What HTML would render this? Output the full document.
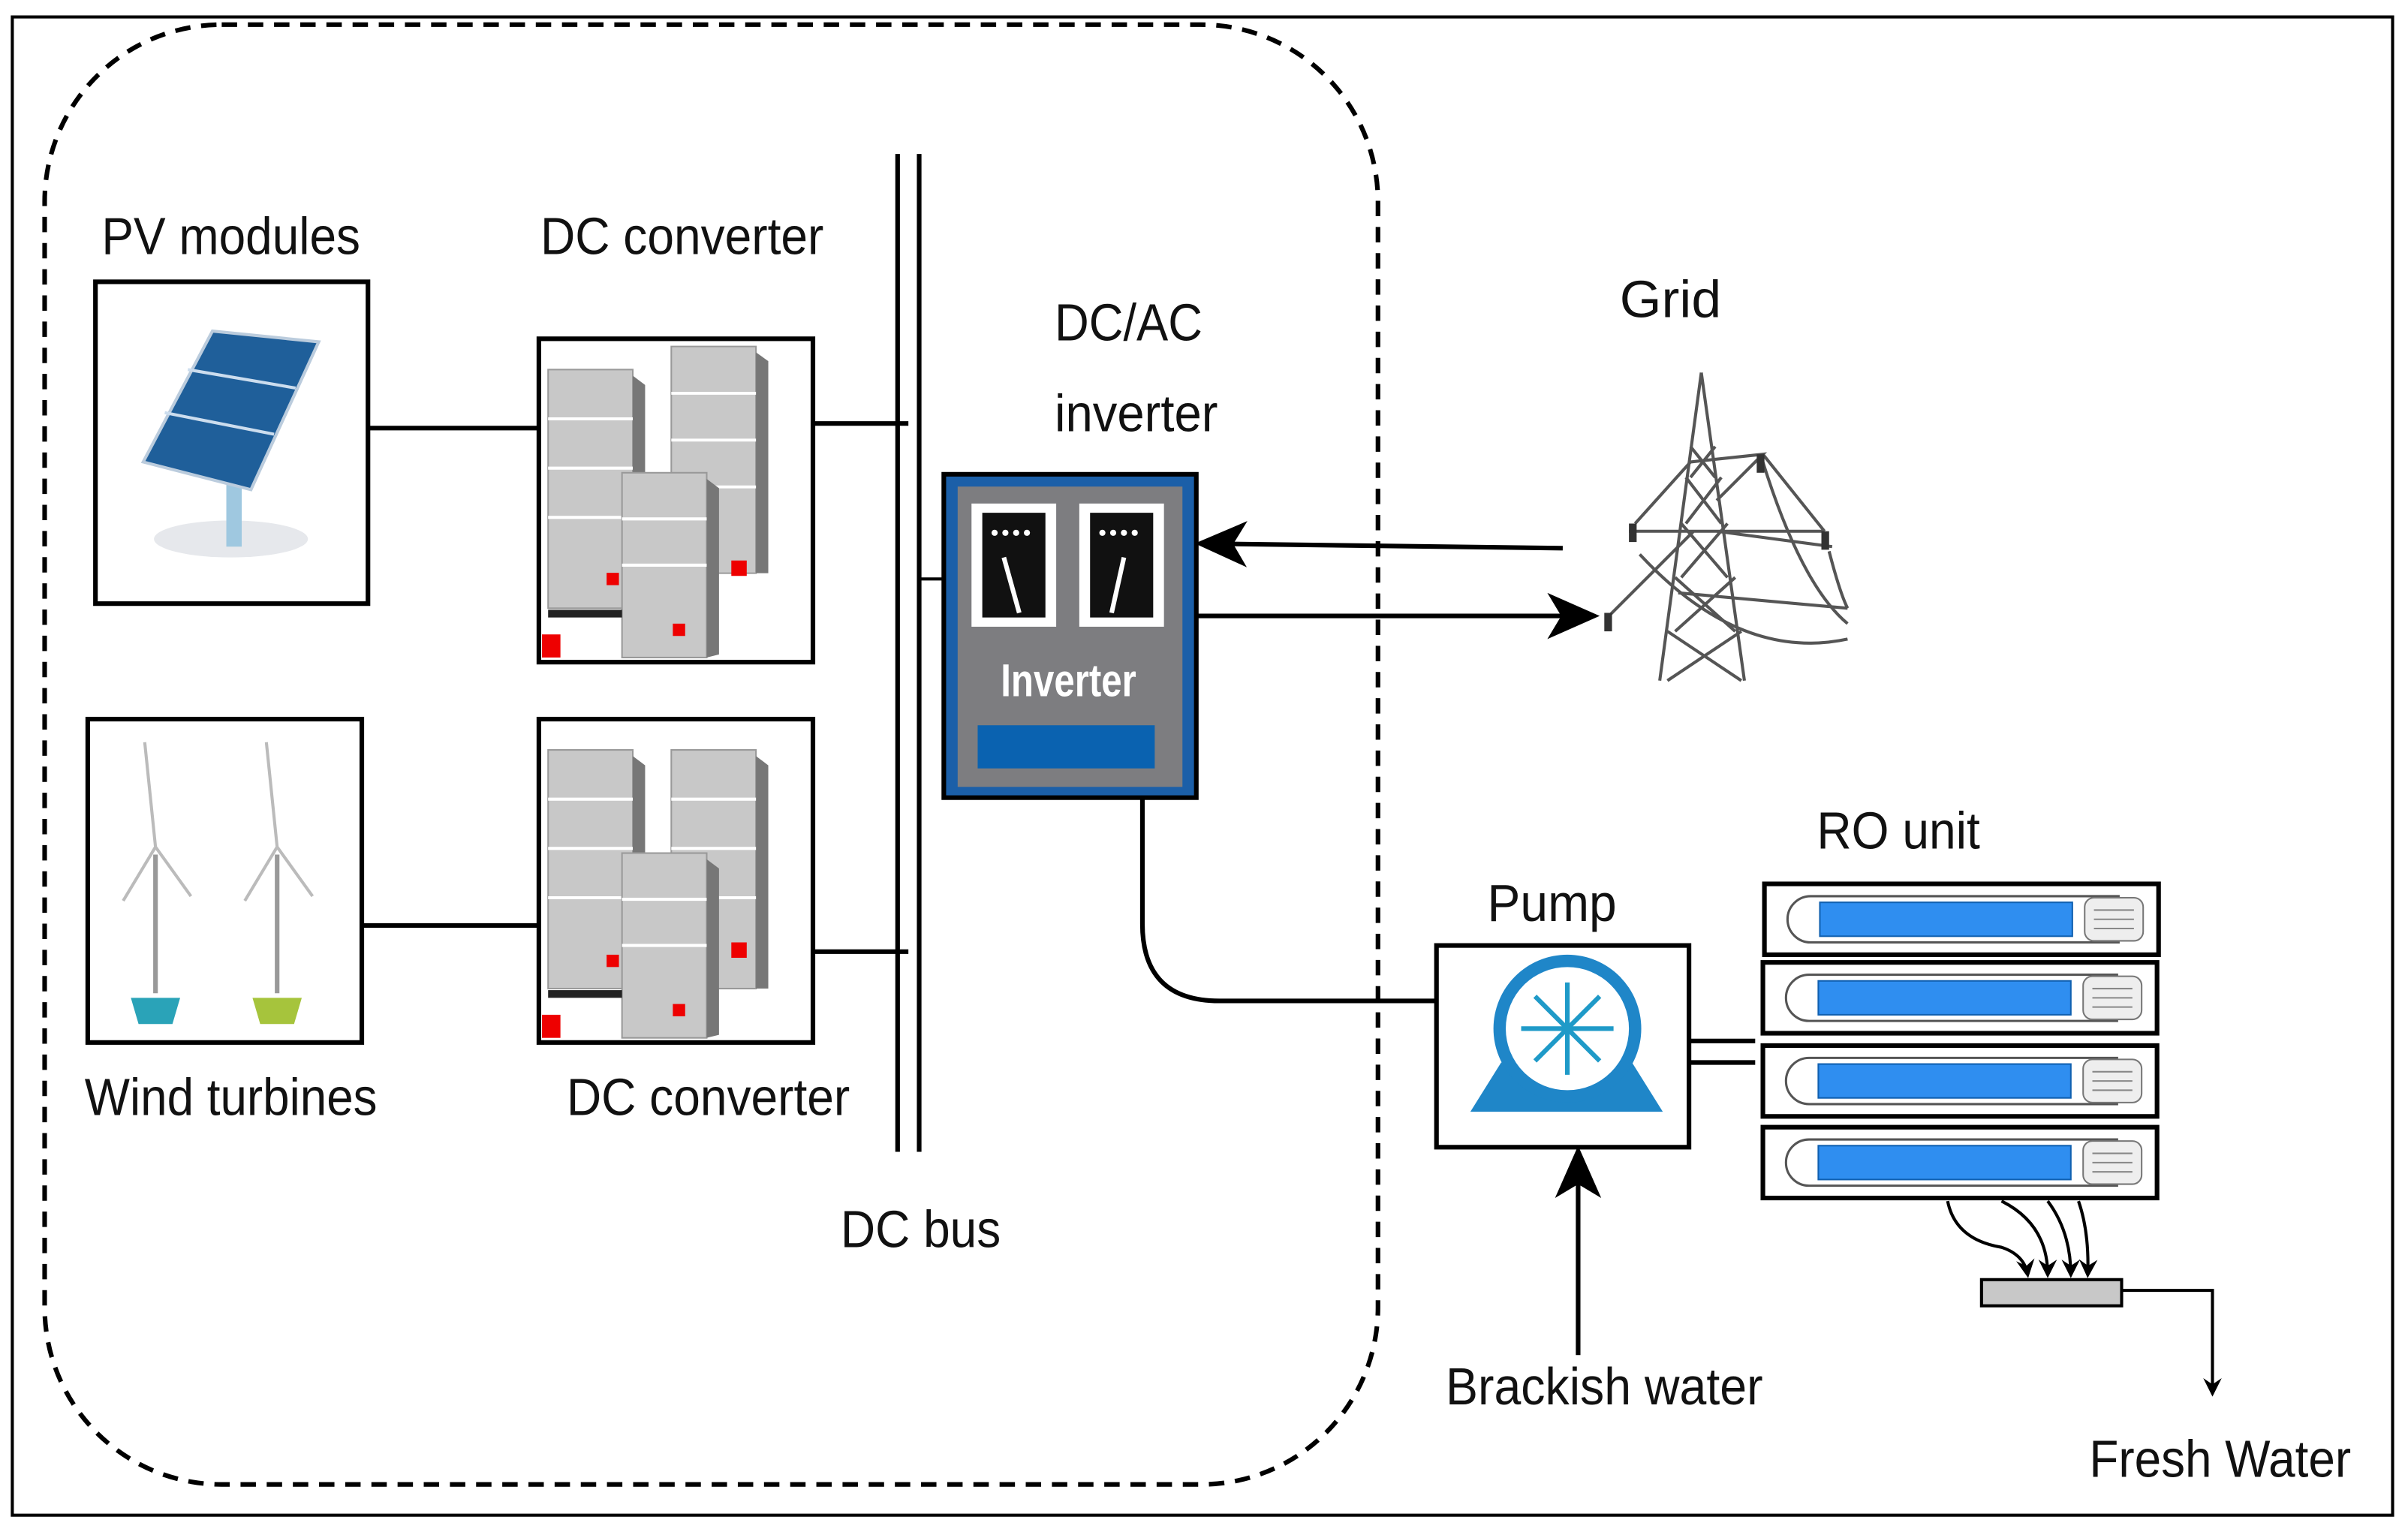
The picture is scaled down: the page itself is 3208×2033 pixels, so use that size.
<!DOCTYPE html>
<html><head><meta charset="utf-8"><style>
html,body{margin:0;padding:0;background:#fff}
svg{display:block}
text{font-family:"Liberation Sans",Arial,sans-serif;fill:#111}
</style></head><body>
<svg width="3208" height="2033" viewBox="0 0 1564 991" preserveAspectRatio="none" xmlns="http://www.w3.org/2000/svg">
<defs>
<marker id="ah" markerWidth="12" markerHeight="12" refX="10" refY="6" orient="auto" markerUnits="userSpaceOnUse" viewBox="0 0 12 12">
<path d="M0,0 L12,6 L0,12 L4,6 Z" fill="#000"/></marker>
<marker id="ah2" markerWidth="34" markerHeight="34" refX="30" refY="17" orient="auto" markerUnits="userSpaceOnUse" viewBox="0 0 34 34">
<path d="M0,2 L34,17 L0,32 L9,17 Z" fill="#000"/></marker>
<g id="srvA">
<rect x="0" y="0" width="55" height="155" fill="#c8c8c8" stroke="#999"/>
<polygon points="55,4 63,10 63,155 55,155" fill="#777"/>
<line x1="0" y1="32" x2="55" y2="32" stroke="#fff" stroke-width="2"/>
<line x1="0" y1="64" x2="55" y2="64" stroke="#fff" stroke-width="2"/>
<line x1="0" y1="96" x2="55" y2="96" stroke="#fff" stroke-width="2"/>
</g>
<g id="srvB">
<rect x="0" y="0" width="55" height="120" fill="#c8c8c8" stroke="#999"/>
<polygon points="55,4 63,10 63,118 55,120" fill="#777"/>
<line x1="0" y1="30" x2="55" y2="30" stroke="#fff" stroke-width="2"/>
<line x1="0" y1="60" x2="55" y2="60" stroke="#fff" stroke-width="2"/>
</g>
<g id="ro">
<rect x="0" y="0" width="256" height="46" fill="#fff" stroke="#000" stroke-width="3"/>
<path d="M30,8 H230 V38 H30 A15,15 0 0 1 30,8 Z" fill="none" stroke="#555" stroke-width="1.5"/>
<rect x="36" y="12" width="164" height="22" fill="#2f8ef0" stroke="#1060b0"/>
<rect x="208" y="9" width="38" height="28" rx="6" fill="#eee" stroke="#777"/>
<line x1="214" y1="17" x2="240" y2="17" stroke="#888"/><line x1="214" y1="23" x2="240" y2="23" stroke="#888"/><line x1="214" y1="29" x2="240" y2="29" stroke="#888"/>
</g>
</defs>
<rect x="0" y="0" width="1564" height="991" fill="#fff"/>
<rect x="8" y="11" width="1546" height="973" fill="none" stroke="#000" stroke-width="2"/>
<rect x="29" y="16" width="866" height="948" rx="115" ry="115" fill="none" stroke="#000" stroke-width="3" stroke-dasharray="10,7"/>

<text x="150" y="165" font-size="34" text-anchor="middle" textLength="168" lengthAdjust="spacingAndGlyphs">PV modules</text>
<text x="443" y="165" font-size="34" text-anchor="middle" textLength="184" lengthAdjust="spacingAndGlyphs">DC converter</text>
<text x="150" y="724" font-size="34" text-anchor="middle" textLength="190" lengthAdjust="spacingAndGlyphs">Wind turbines</text>
<text x="460" y="724" font-size="34" text-anchor="middle" textLength="184" lengthAdjust="spacingAndGlyphs">DC converter</text>
<text x="598" y="810" font-size="34" text-anchor="middle" textLength="104" lengthAdjust="spacingAndGlyphs">DC bus</text>
<text x="733" y="221" font-size="34" text-anchor="middle" textLength="96" lengthAdjust="spacingAndGlyphs">DC/AC</text>
<text x="738" y="280" font-size="34" text-anchor="middle" textLength="106" lengthAdjust="spacingAndGlyphs">inverter</text>
<text x="1085" y="206" font-size="34" text-anchor="middle" textLength="66" lengthAdjust="spacingAndGlyphs">Grid</text>
<text x="1008" y="598" font-size="34" text-anchor="middle" textLength="84" lengthAdjust="spacingAndGlyphs">Pump</text>
<text x="1233" y="551" font-size="34" text-anchor="middle" textLength="106" lengthAdjust="spacingAndGlyphs">RO unit</text>
<text x="1042" y="912" font-size="34" text-anchor="middle" textLength="206" lengthAdjust="spacingAndGlyphs">Brackish water</text>
<text x="1442" y="959" font-size="34" text-anchor="middle" textLength="170" lengthAdjust="spacingAndGlyphs">Fresh Water</text>

<!-- PV box -->
<rect x="62" y="183" width="177" height="209" fill="#fff" stroke="#000" stroke-width="3"/>
<ellipse cx="150" cy="350" rx="50" ry="12" fill="#e6e8ec"/>
<rect x="147" y="285" width="10" height="70" fill="#9fc8e0"/>
<polygon points="93,300 163,318 207,222 138,215" fill="#1f5f9a" stroke="#bcd" stroke-width="2"/>
<line x1="107" y1="268" x2="178" y2="282" stroke="#cde" stroke-width="2"/>
<line x1="122" y1="240" x2="192" y2="252" stroke="#cde" stroke-width="2"/>
<!-- wind box -->
<rect x="57" y="467" width="178" height="210" fill="#fff" stroke="#000" stroke-width="3"/>
<g stroke="#999" stroke-width="3"><line x1="101" y1="555" x2="101" y2="645"/><line x1="180" y1="555" x2="180" y2="645"/></g>
<g stroke="#bbb" stroke-width="2" fill="none"><path d="M101,550 L94,482 M101,550 L80,585 M101,550 L124,582"/><path d="M180,550 L173,482 M180,550 L159,585 M180,550 L203,582"/></g>
<polygon points="85,648 117,648 112,665 90,665" fill="#2aa3b8"/>
<polygon points="164,648 196,648 191,665 169,665" fill="#a6c43c"/>
<!-- converters -->
<rect x="350" y="220" width="178" height="210" fill="#fff" stroke="#000" stroke-width="3"/>
<use href="#srvA" x="356" y="240"/><use href="#srvA" x="436" y="240" transform="translate(0,-3) scale(1,0.95)" />
<use href="#srvB" x="404" y="307"/>
<rect x="356" y="396" width="48" height="5" fill="#222"/>
<rect x="352" y="412" width="12" height="15" fill="#e00"/>
<rect x="394" y="372" width="8" height="8" fill="#e00"/><rect x="475" y="364" width="10" height="10" fill="#e00"/><rect x="437" y="405" width="8" height="8" fill="#e00"/>
<rect x="350" y="467" width="178" height="210" fill="#fff" stroke="#000" stroke-width="3"/>
<use href="#srvA" x="356" y="487"/><use href="#srvA" x="436" y="487"/>
<use href="#srvB" x="404" y="554"/>
<rect x="356" y="643" width="48" height="5" fill="#222"/>
<rect x="352" y="659" width="12" height="15" fill="#e00"/>
<rect x="394" y="620" width="8" height="8" fill="#e00"/><rect x="475" y="612" width="10" height="10" fill="#e00"/><rect x="437" y="652" width="8" height="8" fill="#e00"/>
<!-- connectors -->
<g stroke="#000" stroke-width="3" fill="none">
<line x1="239" y1="278" x2="350" y2="278"/>
<line x1="528" y1="275" x2="590" y2="275"/>
<line x1="235" y1="601" x2="350" y2="601"/>
<line x1="528" y1="618" x2="590" y2="618"/>
<line x1="583" y1="100" x2="583" y2="748"/>
<line x1="597" y1="100" x2="597" y2="748"/>
<line x1="597" y1="376" x2="613" y2="376" stroke-width="2"/>
<path d="M742,518 V600 Q742,650 792,650 H933"/>
<line x1="1015" y1="356" x2="780" y2="353" marker-end="url(#ah2)"/>
<line x1="778" y1="400" x2="1035" y2="400" marker-end="url(#ah2)"/>
<line x1="1025" y1="880" x2="1025" y2="748" marker-end="url(#ah2)"/>
<line x1="1097" y1="676" x2="1140" y2="676"/>
<line x1="1097" y1="690" x2="1140" y2="690"/>
</g>
<!-- inverter -->
<rect x="613" y="308" width="164" height="210" fill="#1b5fa8" stroke="#000" stroke-width="3"/>
<rect x="622" y="316" width="146" height="195" fill="#7d7d80"/>
<rect x="631" y="327" width="55" height="80" fill="#fff"/><rect x="638" y="333" width="41" height="68" fill="#111"/>
<rect x="701" y="327" width="55" height="80" fill="#fff"/><rect x="708" y="333" width="41" height="68" fill="#111"/>
<g fill="#fff"><circle cx="646" cy="346" r="2"/><circle cx="653" cy="346" r="2"/><circle cx="660" cy="346" r="2"/><circle cx="667" cy="346" r="2"/><circle cx="716" cy="346" r="2"/><circle cx="723" cy="346" r="2"/><circle cx="730" cy="346" r="2"/><circle cx="737" cy="346" r="2"/></g>
<line x1="652" y1="362" x2="662" y2="398" stroke="#fff" stroke-width="3"/>
<line x1="730" y1="362" x2="722" y2="398" stroke="#fff" stroke-width="3"/>
<text x="694" y="452" font-size="30" text-anchor="middle" textLength="88" lengthAdjust="spacingAndGlyphs" style="fill:#fff;font-weight:bold">Inverter</text>
<rect x="635" y="471" width="115" height="28" fill="#0a62b0"/>
<!-- tower -->
<g stroke="#555" stroke-width="2" fill="none">
<path d="M1105,242 L1078,442 M1105,242 L1133,442"/>
<path d="M1098,290 L1114,310 M1114,290 L1098,310 M1095,310 L1118,340 M1118,310 L1095,340 M1092,340 L1122,375 M1122,340 L1092,375 M1088,375 L1127,410 M1127,375 L1088,410 M1083,410 L1131,442 M1131,410 L1083,442"/>
<path d="M1062,340 L1098,300 L1145,295 L1115,325 M1058,345 H1185 M1045,400 L1100,345 M1115,345 L1190,355 M1145,295 L1185,345 M1090,385 L1200,395"/>
<path d="M1145,300 Q1170,380 1200,405 M1065,360 Q1130,430 1200,415 M1188,358 Q1195,385 1200,395"/>
</g>
<g fill="#333"><rect x="1058" y="340" width="5" height="12"/><rect x="1183" y="345" width="5" height="12"/><rect x="1141" y="295" width="5" height="12"/><rect x="1042" y="398" width="5" height="12"/></g>
<!-- pump -->
<rect x="933" y="614" width="164" height="131" fill="#fff" stroke="#000" stroke-width="3"/>
<polygon points="955,722 1080,722 1060,690 975,690" fill="#1f86c8"/>
<circle cx="1018" cy="668" r="48" fill="#1f86c8"/>
<circle cx="1018" cy="668" r="40" fill="#fff"/>
<g stroke="#1f9ac8" stroke-width="3"><line x1="988" y1="668" x2="1048" y2="668"/><line x1="1018" y1="638" x2="1018" y2="698"/><line x1="997" y1="647" x2="1039" y2="689"/><line x1="1039" y1="647" x2="997" y2="689"/></g>
<!-- RO -->
<use href="#ro" x="1146" y="574"/>
<use href="#ro" x="1145" y="625"/>
<use href="#ro" x="1145" y="679"/>
<use href="#ro" x="1145" y="732"/>
<g stroke="#000" stroke-width="2" fill="none">
<path d="M1265,780 Q1270,805 1300,810 Q1315,815 1317,828" marker-end="url(#ah)"/>
<path d="M1300,780 Q1330,795 1330,828" marker-end="url(#ah)"/>
<path d="M1330,780 Q1345,800 1345,828" marker-end="url(#ah)"/>
<path d="M1350,780 Q1357,800 1356,828" marker-end="url(#ah)"/>
<path d="M1378,838 H1437 V905" marker-end="url(#ah)"/>
</g>
<rect x="1287" y="831" width="91" height="17" fill="#c8c8c8" stroke="#000" stroke-width="2"/>
</svg>
</body></html>
